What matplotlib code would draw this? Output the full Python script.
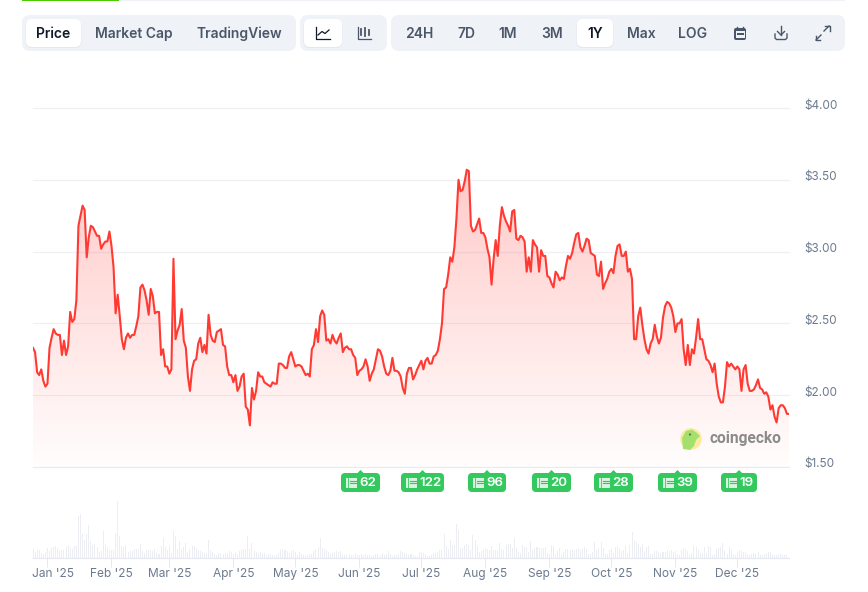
import matplotlib
matplotlib.use("Agg")
import matplotlib.pyplot as plt
from matplotlib.patches import FancyBboxPatch, Circle, Polygon, Rectangle
from matplotlib.transforms import ScaledTranslation
import matplotlib.dates as mdates
import numpy as np
import pandas as pd

plt.rcParams["font.family"] = ["Inter", "DejaVu Sans"]

# daily close, USD
prices = [
    2.33, 2.30, 2.16, 2.14, 2.18, 2.10, 2.06, 2.08, 2.33, 2.40, 2.46, 2.43, 2.42, 2.42, 2.28, 2.38,
    2.28, 2.34, 2.58, 2.51, 2.53, 2.66, 3.18, 3.25, 3.32, 3.29, 2.96, 3.10, 3.18, 3.17, 3.14, 3.11,
    3.11, 3.02, 3.05, 3.07, 3.07, 3.14, 3.04, 2.89, 2.57, 2.70, 2.55, 2.39, 2.32, 2.40, 2.43, 2.40,
    2.42, 2.42, 2.48, 2.55, 2.75, 2.77, 2.73, 2.66, 2.56, 2.74, 2.69, 2.57, 2.58, 2.58, 2.28, 2.32,
    2.20, 2.20, 2.15, 2.18, 2.95, 2.39, 2.45, 2.49, 2.60, 2.38, 2.33, 2.13, 2.03, 2.18, 2.24, 2.25,
    2.36, 2.40, 2.30, 2.35, 2.29, 2.56, 2.42, 2.38, 2.37, 2.44, 2.45, 2.46, 2.35, 2.34, 2.20, 2.14,
    2.14, 2.09, 2.14, 2.03, 2.06, 2.13, 2.15, 1.92, 1.90, 1.79, 2.05, 1.97, 2.03, 2.16, 2.13, 2.13,
    2.09, 2.08, 2.07, 2.06, 2.09, 2.08, 2.08, 2.22, 2.22, 2.21, 2.19, 2.19, 2.27, 2.30, 2.25, 2.20,
    2.21, 2.21, 2.20, 2.17, 2.14, 2.15, 2.13, 2.32, 2.35, 2.46, 2.37, 2.55, 2.59, 2.56, 2.38, 2.39,
    2.36, 2.42, 2.38, 2.36, 2.40, 2.43, 2.30, 2.33, 2.34, 2.32, 2.32, 2.28, 2.26, 2.14, 2.17, 2.18,
    2.20, 2.25, 2.20, 2.10, 2.15, 2.18, 2.25, 2.32, 2.31, 2.27, 2.20, 2.15, 2.14, 2.17, 2.26, 2.17,
    2.17, 2.16, 2.13, 2.05, 2.01, 2.15, 2.19, 2.19, 2.11, 2.14, 2.18, 2.21, 2.24, 2.18, 2.24, 2.26,
    2.22, 2.22, 2.27, 2.28, 2.31, 2.39, 2.50, 2.74, 2.75, 2.84, 2.96, 2.93, 3.03, 3.23, 3.50, 3.42,
    3.43, 3.49, 3.57, 3.56, 3.18, 3.14, 3.15, 3.19, 3.23, 3.13, 3.13, 3.10, 3.02, 2.96, 2.77, 2.95,
    3.08, 2.97, 3.18, 3.31, 3.25, 3.21, 3.18, 3.14, 3.28, 3.29, 3.09, 3.08, 3.11, 3.10, 3.07, 2.86,
    2.96, 2.86, 3.08, 3.05, 3.03, 2.86, 3.01, 2.97, 2.97, 2.83, 2.82, 2.78, 2.75, 2.86, 2.84, 2.80,
    2.82, 2.81, 2.90, 2.97, 2.95, 2.99, 3.06, 3.12, 3.13, 3.03, 3.00, 3.04, 3.09, 3.08, 2.99, 2.98,
    2.97, 2.84, 2.83, 2.93, 2.74, 2.78, 2.81, 2.86, 2.88, 2.85, 2.97, 3.04, 3.05, 2.97, 2.97, 3.00,
    2.86, 2.88, 2.81, 2.39, 2.39, 2.55, 2.61, 2.49, 2.39, 2.32, 2.29, 2.36, 2.39, 2.49, 2.41, 2.36,
    2.40, 2.54, 2.62, 2.65, 2.64, 2.61, 2.55, 2.44, 2.50, 2.50, 2.53, 2.32, 2.21, 2.35, 2.21, 2.32,
    2.29, 2.40, 2.53, 2.39, 2.39, 2.32, 2.25, 2.24, 2.21, 2.16, 2.22, 2.08, 1.99, 1.95, 1.95, 2.06,
    2.23, 2.20, 2.22, 2.20, 2.18, 2.20, 2.18, 2.03, 2.18, 2.21, 2.08, 2.03, 2.03, 2.04, 2.07, 2.11,
    2.05, 2.04, 2.01, 2.02, 1.99, 1.90, 1.93, 1.85, 1.81, 1.91, 1.93, 1.93, 1.91, 1.87, 1.87,
]

# daily traded volume, no scale is printed so these are relative
volumes = [
    9, 6, 8, 8, 5, 4, 6, 10, 7, 10, 11, 12, 10, 8, 8, 8, 11, 13, 10, 9, 12, 12, 42, 44, 24, 18,
    24, 33, 17, 13, 14, 11, 6, 7, 27, 14, 11, 8, 8, 8, 25, 57, 22, 12, 11, 13, 6, 7, 7, 9, 9, 9,
    14, 7, 5, 8, 8, 8, 7, 9, 5, 4, 12, 20, 11, 8, 12, 5, 27, 22, 9, 17, 9, 11, 15, 6, 9, 12, 12,
    10, 8, 7, 6, 5, 5, 18, 8, 6, 4, 3, 5, 5, 4, 5, 4, 7, 6, 4, 6, 4, 7, 8, 9, 9, 22, 9, 15, 7, 6,
    5, 6, 5, 5, 3, 4, 4, 3, 2, 3, 5, 8, 9, 8, 7, 5, 7, 8, 6, 3, 6, 4, 3, 2, 3, 4, 4, 7, 9, 11, 20,
    10, 9, 8, 6, 4, 5, 6, 7, 6, 7, 3, 3, 3, 4, 3, 3, 5, 3, 3, 4, 3, 4, 3, 3, 2, 3, 4, 4, 3, 5, 3,
    4, 7, 4, 2, 3, 3, 4, 7, 6, 5, 4, 3, 4, 3, 2, 2, 6, 6, 5, 4, 2, 2, 3, 5, 5, 6, 8, 8, 24, 12, 9,
    18, 13, 13, 34, 28, 10, 10, 13, 14, 13, 8, 23, 18, 12, 6, 7, 9, 10, 9, 8, 12, 8, 8, 7, 15, 9,
    8, 13, 14, 14, 10, 20, 10, 6, 5, 13, 11, 11, 6, 17, 8, 10, 11, 10, 10, 10, 11, 5, 4, 13, 12,
    4, 7, 10, 3, 6, 9, 9, 8, 9, 8, 9, 10, 8, 9, 11, 9, 4, 4, 6, 16, 8, 10, 16, 10, 4, 4, 8, 9, 5,
    11, 12, 10, 7, 8, 12, 5, 13, 26, 18, 16, 14, 11, 14, 7, 11, 12, 4, 4, 7, 7, 6, 5, 6, 6, 8, 7,
    8, 6, 7, 4, 3, 8, 10, 9, 7, 3, 5, 12, 11, 8, 5, 5, 11, 5, 12, 11, 3, 4, 9, 10, 11, 15, 8, 4,
    11, 8, 4, 3, 6, 8, 7, 6, 6, 4, 3, 4, 5, 5, 6, 3, 3, 4, 5, 6, 6, 3, 3, 3, 4, 4, 3, 3, 3,
]

price_ticks = [1.5, 2.0, 2.5, 3.0, 3.5, 4.0]
news_labels = ["62", "122", "96", "20", "28", "39", "19"]

RED = "#ff3a33"
SLATE = "#6c7a8f"
GRID = "#eff0f4"
PANEL = "#eff2f7"
TEXT = "#4b5768"
DARK = "#111827"
GREEN = "#34c95f"

W, H = 868, 592
fig = plt.figure(figsize=(W / 100, H / 100), dpi=100, facecolor="white")
dates = pd.date_range("2024-12-25", periods=len(prices), freq="D")


def px_axes(left, top, right, bottom):
    return fig.add_axes([left / W, 1 - bottom / H, (right - left) / W, (bottom - top) / H])


# price panel
ax = px_axes(33, 108, 789, 467)
ax.set_facecolor("none")
ax.set_xlim(dates[0], dates[len(prices) - 1])
ax.set_ylim(1.5, 4.0)
xlim = ax.get_xlim()

grad = np.zeros((256, 2, 4))
grad[..., 0] = 1.0
grad[..., 1] = 0.23
grad[..., 2] = 0.2
grad[..., 3] = np.linspace(0.27, 0.01, 256)[:, None]
area = ax.fill_between(dates, prices, 1.5, color="none", lw=0)
im = ax.imshow(grad, extent=[xlim[0], xlim[1], 1.5, max(prices)], aspect="auto", zorder=2, origin="upper")
im.set_clip_path(area.get_paths()[0], transform=ax.transData)
ax.set_xlim(xlim)
ax.set_ylim(1.5, 4.0)
ax.plot(dates, prices, color=RED, lw=1.5, zorder=3, solid_joinstyle="round")

ax.set_yticks(price_ticks)
ax.set_yticklabels([f"${t:.2f}" for t in price_ticks])
ax.yaxis.tick_right()
ax.tick_params(axis="y", length=0, pad=11, labelsize=8.5, labelcolor=SLATE)
up = ScaledTranslation(0, 4 / 100, fig.dpi_scale_trans)
for lab in ax.get_yticklabels():
    lab.set_transform(lab.get_transform() + up)
ax.set_xticks([])
ax.grid(axis="y", color=GRID, lw=0.9, zorder=0, clip_on=False)
for gl in ax.get_ygridlines():
    gl.set_clip_on(False)
ax.get_ygridlines()[0].set_color("#e8ebf1")
ax.set_axisbelow(True)
for s in ax.spines.values():
    s.set_visible(False)

# volume bars share the same time axis
vax = px_axes(33, 500, 789, 558)
vax.set_facecolor("none")
vax.bar(dates[:len(volumes)], volumes, width=0.5, color="#eceef3", lw=0)
vax.set_xlim(xlim)
vax.set_ylim(0, 58)
vax.set_yticks([])
vax.xaxis.set_major_locator(mdates.MonthLocator())
vax.xaxis.set_major_formatter(mdates.DateFormatter("%b '%y"))
vax.tick_params(axis="x", length=6.5, width=0.7, color="#e6e9ef", pad=0.5, labelsize=8.6, labelcolor=SLATE)
for s in ("top", "left", "right"):
    vax.spines[s].set_visible(False)
vax.spines["bottom"].set_color("#e6e9ef")
vax.spines["bottom"].set_linewidth(0.8)
fig.canvas.draw()
# first label sits inside the panel
first = [t for t in vax.xaxis.get_major_ticks() if t.label1.get_text().startswith("Jan")][0]
first.label1.set_transform(first.label1.get_transform() + ScaledTranslation(5.5 / 100, 0, fig.dpi_scale_trans))

# toolbar and overlays, laid out in screen pixels
ui = fig.add_axes([0, 0, 1, 1], zorder=5)
ui.set_xlim(0, W)
ui.set_ylim(H, 0)
ui.axis("off")
ui.patch.set_alpha(0)


def rbox(x0, y0, x1, y1, r, color, z=1, **kw):
    p = FancyBboxPatch((x0 + r, y0 + r), x1 - x0 - 2 * r, y1 - y0 - 2 * r,
                       boxstyle=f"round,pad={r},rounding_size={r}", fc=color, ec="none", zorder=z, **kw)
    ui.add_patch(p)


ui.add_patch(Rectangle((119, 0), 726, 1, fc="#eef1f5", ec="none"))
ui.add_patch(Rectangle((22, 0), 97, 1.2, fc="#4bcc00", ec="none"))

rbox(22, 15, 296, 51, 8, PANEL)
rbox(300, 15, 387, 51, 8, PANEL)
rbox(391, 15, 845, 51, 8, PANEL)
for x0, x1 in [(26, 81), (304, 342), (577, 613)]:
    rbox(x0 - 0.5, 20, x1 + 0.5, 48, 6, "#dde1e8", z=2, alpha=0.6)
    rbox(x0, 19, x1, 47, 6, "white", z=3)

for name, cx in [("Market Cap", 134), ("TradingView", 239.5), ("24H", 419), ("7D", 466), ("1M", 508),
                 ("3M", 552), ("Max", 641), ("LOG", 693)]:
    ui.text(cx, 33.7, name, ha="center", va="center", fontsize=10, fontweight="semibold", color=TEXT, zorder=4)
for name, cx in [("Price", 53.5), ("1Y", 595)]:
    ui.text(cx, 33.7, name, ha="center", va="center", fontsize=10, fontweight="semibold", color=DARK, zorder=4)

# line chart icon
ui.plot([316, 316, 330], [27, 39, 39], color=DARK, lw=0.9, zorder=4)
ui.plot([318, 322, 325, 329], [35, 31.5, 33.5, 30], color=DARK, lw=0.9, zorder=4)
# candles icon
ui.plot([357.5, 357.5, 371], [27, 38.5, 38.5], color=TEXT, lw=0.9, zorder=4)
for cx, y0, y1 in [(360.5, 29, 35), (364.5, 28, 36), (368.5, 30, 35)]:
    ui.plot([cx, cx], [y0, y1], color=TEXT, lw=1.3, zorder=4)
# calendar
rbox(734, 28, 746, 40, 2, TEXT, z=4)
ui.add_patch(Rectangle((735.5, 31), 9, 7.2, fc=PANEL, ec="none", zorder=4))
ui.add_patch(Rectangle((736.5, 33), 7, 2, fc=TEXT, ec="none", zorder=4))
ui.plot([737, 737], [26.5, 29], color=TEXT, lw=1, zorder=4)
ui.plot([743, 743], [26.5, 29], color=TEXT, lw=1, zorder=4)
# download
ui.plot([781, 781], [26, 35], color=TEXT, lw=1, zorder=4)
ui.plot([777.5, 781, 784.5], [31.5, 35, 31.5], color=TEXT, lw=1, zorder=4)
ui.plot([775, 775, 776.5, 785.5, 787, 787], [34, 38, 39.5, 39.5, 38, 34], color=TEXT, lw=1, zorder=4)
# expand
ui.plot([824, 829], [31, 26], color=TEXT, lw=1, zorder=4)
ui.plot([825, 829.5, 829.5], [26, 26, 30.5], color=TEXT, lw=1, zorder=4)
ui.plot([816, 821], [40, 35], color=TEXT, lw=1, zorder=4)
ui.plot([815.5, 815.5, 820], [35.5, 40, 40], color=TEXT, lw=1, zorder=4)

# news badges
badge_spans = [(341, 380), (401, 444), (468, 506), (532, 571), (594, 633), (658, 697), (721, 757)]
for (x0, x1), lab in zip(badge_spans, news_labels):
    cx = (x0 + x1) / 2
    rbox(x0, 473, x1, 492, 4, GREEN, z=4)
    ui.add_patch(Polygon([(cx - 3.5, 473.5), (cx, 470), (cx + 3.5, 473.5)], fc=GREEN, ec="none", zorder=4))
    ui.add_patch(Rectangle((x0 + 4.5, 478), 11, 9.5, fc="#d8f4e0", ec="none", zorder=5))
    ui.plot([x0 + 8.5, x0 + 14.5], [480.5, 480.5], color=GREEN, lw=0.8, zorder=6)
    ui.plot([x0 + 8.5, x0 + 14.5], [483, 483], color=GREEN, lw=0.8, zorder=6)
    ui.plot([x0 + 7, x0 + 7], [478, 487], color=GREEN, lw=0.6, zorder=6)
    ui.text(x0 + 18.5, 483.2, lab, ha="left", va="center", fontsize=9.6, fontweight="semibold",
            color="white", zorder=6)

# watermark
ui.add_patch(Circle((691, 439), 10.8, fc="#fbeaa0", ec="none", zorder=4))
ui.add_patch(Polygon([(683, 449), (682, 438), (686, 431), (692, 429.5), (697, 433), (700, 436),
                      (696, 440), (694, 446), (690, 450)], fc="#a4e06c", ec="none", zorder=4))
ui.add_patch(Circle((690, 434.5), 1.1, fc="#5d6b5a", ec="none", zorder=5))
ui.text(709, 439, "coingecko", ha="left", va="center", fontsize=11.2, fontweight="bold",
        color="#8b8b8b", family="Roboto", zorder=4)

fig.savefig("out.png", dpi=100)
